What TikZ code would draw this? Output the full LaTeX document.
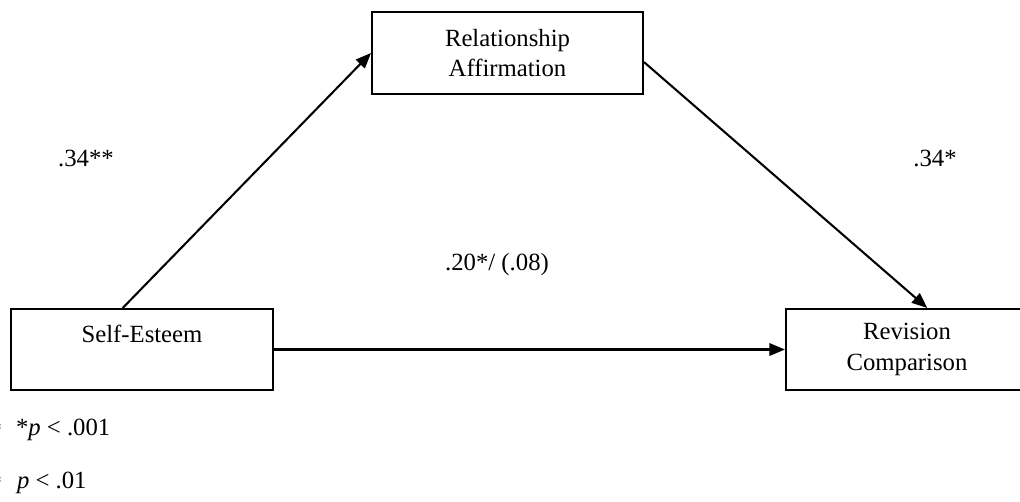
\documentclass[tikz,border=0pt]{standalone}
\usepackage{fontspec}
\setmainfont{Liberation Serif}
\usetikzlibrary{arrows.meta,calc}

\begin{document}
\begin{tikzpicture}[x={(0.4854pt,0)}, y={(0,-0.4854pt)}, line width=1pt,
  font=\fontsize{12}{15}\selectfont,
  var/.style={draw, rectangle, align=center, inner sep=0pt},
  path/.style={-{Triangle[length=7.5pt,width=6pt]}},
  coef/.style={inner sep=0pt}]
  \useasboundingbox (0,0) rectangle (1020,501);
  % variables
  \node[var, minimum width=127.2pt, minimum height=39.3pt] (self) at (142,349.5)
    {Self-Esteem\\\mbox{}};
  \node[var, minimum width=131.5pt, minimum height=39.8pt] (rel) at (507.5,53)
    {Relationship\\Affirmation};
  \node[var, minimum width=117.5pt, minimum height=39.3pt] (rev) at (907,349.5)
    {Revision\\Comparison};
  % paths
  \draw[path] ($(self.north west)!0.427!(self.north east)$) -- (rel.west);
  \draw[path] ([yshift=-4.4pt]rel.east) -- ($(rev.north west)!0.583!(rev.north east)$);
  \draw[path] (self.east) -- (rev.west);
  % coefficients
  \node[coef] (a) at (86,158) {.34**};
  \node[coef] (b) at (935,158) {.34*};
  \node[coef] (c) at (497,265) {.20*/ (.08)};
  % notes
  \node[coef, anchor=east] (s1) at (3,430) {*};
  \node[coef, anchor=west] (n1) at (15,430) {*\textit{p} {\textless} .001};
  \node[coef, anchor=east] (s2) at (3,483) {*};
  \node[coef, anchor=west] (n2) at (16,483) {\textit{p} {\textless} .01};
\end{tikzpicture}
\end{document}
